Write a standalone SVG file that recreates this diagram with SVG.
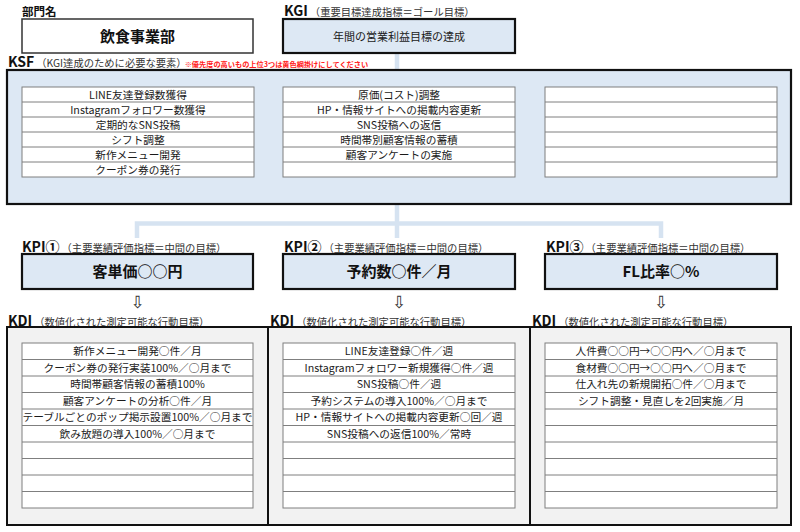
<svg xmlns="http://www.w3.org/2000/svg" width="800" height="532" viewBox="0 0 800 532">
<style>
text{font-family:"Noto Sans CJK JP","Liberation Sans",sans-serif;fill:#1a1a1a}
.lbl{font-size:14px;font-weight:bold;fill:#111}
.sub{font-size:10.3px;font-weight:normal;fill:#333}
.red{font-size:7.2px;fill:#ff2020}
.cell{font-size:10.7px;text-anchor:middle}
.big{font-size:15px;font-weight:bold;text-anchor:middle;fill:#111}
.arr{font-family:"DejaVu Sans",sans-serif;font-size:17px;text-anchor:middle;fill:#333}
.tbl{fill:#fff;stroke:#7f7f7f;stroke-width:1}
.row{stroke:#7f7f7f;stroke-width:1}
.blue{fill:#dde8f4;stroke:#111;stroke-width:2.2}
.gray{fill:#f2f2f2;stroke:#111;stroke-width:2}
.con{stroke:#d6e3f1;stroke-width:4.5;fill:none}
</style>

<g id="connectors">
<line class="con" x1="397" y1="53" x2="397" y2="70"/>
<line class="con" x1="397" y1="204" x2="397" y2="238"/>
<polyline class="con" points="137,238 137,223.5 661,223.5 661,238"/>
</g>

<g id="dept">
<text class="lbl" x="22" y="15.5" style="font-size:11.5px">部門名</text>
<rect x="22" y="19" width="231" height="34" fill="#fff" stroke="#333" stroke-width="1.5"/>
<text class="big" x="137.5" y="42">飲食事業部</text>
</g>

<g id="kgi">
<text class="lbl" x="284" y="15.5">KGI<tspan class="sub" dx="2">（重要目標達成指標＝ゴール目標）</tspan></text>
<rect class="blue" x="283" y="19" width="232" height="34"/>
<text class="cell" x="399" y="41" style="font-size:11px">年間の営業利益目標の達成</text>
</g>

<g id="ksf">
<text class="lbl" x="8" y="67">KSF<tspan class="sub" dx="2">（KGI達成のために必要な要素）</tspan><tspan class="red" dx="-2">※優先度の高いもの上位3つは黄色網掛けにしてください</tspan></text>
<rect class="blue" x="7" y="70" width="784" height="134"/>
<rect class="tbl" x="22" y="87" width="232" height="90"/>
<rect class="tbl" x="283" y="87" width="232" height="90"/>
<rect class="tbl" x="545" y="87" width="232" height="90"/>
<path class="row" d="M22 102H254M22 117H254M22 132H254M22 147H254M22 162H254M283 102H515M283 117H515M283 132H515M283 147H515M283 162H515M545 102H777M545 117H777M545 132H777M545 147H777M545 162H777"/>
<text class="cell" x="138" y="98.5">LINE友達登録数獲得</text>
<text class="cell" x="138" y="113.5">Instagramフォロワー数獲得</text>
<text class="cell" x="138" y="128.5">定期的なSNS投稿</text>
<text class="cell" x="138" y="143.5">シフト調整</text>
<text class="cell" x="138" y="158.5">新作メニュー開発</text>
<text class="cell" x="138" y="173.5">クーポン券の発行</text>
<text class="cell" x="399" y="98.5">原価(コスト)調整</text>
<text class="cell" x="399" y="113.5">HP・情報サイトへの掲載内容更新</text>
<text class="cell" x="399" y="128.5">SNS投稿への返信</text>
<text class="cell" x="399" y="143.5">時間帯別顧客情報の蓄積</text>
<text class="cell" x="399" y="158.5">顧客アンケートの実施</text>
</g>

<g id="kpi1">
<text class="lbl" x="22" y="252">KPI①<tspan class="sub" dx="2">（主要業績評価指標＝中間の目標）</tspan></text>
<rect class="blue" x="22" y="254" width="231" height="35"/>
<text class="big" x="137.5" y="277">客単価○○円</text>
<text class="arr" x="137.5" y="308">⇩</text>
</g>

<g id="kpi2">
<text class="lbl" x="284" y="252">KPI②<tspan class="sub" dx="2">（主要業績評価指標＝中間の目標）</tspan></text>
<rect class="blue" x="283" y="254" width="232" height="35"/>
<text class="big" x="399" y="277">予約数○件／月</text>
<text class="arr" x="399" y="308">⇩</text>
</g>

<g id="kpi3">
<text class="lbl" x="546" y="252">KPI③<tspan class="sub" dx="2">（主要業績評価指標＝中間の目標）</tspan></text>
<rect class="blue" x="545" y="254" width="232" height="35"/>
<text class="big" x="661" y="277">FL比率○%</text>
<text class="arr" x="661" y="308">⇩</text>
</g>

<g id="kdi1">
<text class="lbl" x="8" y="325.5">KDI<tspan class="sub" dx="2">（数値化された測定可能な行動目標）</tspan></text>
<rect class="gray" x="7" y="327" width="261" height="198"/>
<rect class="tbl" x="22" y="343" width="231" height="165"/>
<path class="row" d="M22 359.5H253M22 376H253M22 392.5H253M22 409H253M22 425.5H253M22 442H253M22 458.5H253M22 475H253M22 491.5H253"/>
<text class="cell" x="137.5" y="355.2">新作メニュー開発○件／月</text>
<text class="cell" x="137.5" y="371.7">クーポン券の発行実装100%／○月まで</text>
<text class="cell" x="137.5" y="388.2">時間帯顧客情報の蓄積100%</text>
<text class="cell" x="137.5" y="404.7">顧客アンケートの分析○件／月</text>
<text class="cell" x="137.5" y="421.2">テーブルごとのポップ掲示設置100%／○月まで</text>
<text class="cell" x="137.5" y="437.7">飲み放題の導入100%／○月まで</text>
</g>

<g id="kdi2">
<text class="lbl" x="270" y="325.5">KDI<tspan class="sub" dx="2">（数値化された測定可能な行動目標）</tspan></text>
<rect class="gray" x="268" y="327" width="262" height="198"/>
<rect class="tbl" x="283" y="343" width="232" height="165"/>
<path class="row" d="M283 359.5H515M283 376H515M283 392.5H515M283 409H515M283 425.5H515M283 442H515M283 458.5H515M283 475H515M283 491.5H515"/>
<text class="cell" x="399" y="355.2">LINE友達登録○件／週</text>
<text class="cell" x="399" y="371.7">Instagramフォロワー新規獲得○件／週</text>
<text class="cell" x="399" y="388.2">SNS投稿○件／週</text>
<text class="cell" x="399" y="404.7">予約システムの導入100%／○月まで</text>
<text class="cell" x="399" y="421.2">HP・情報サイトへの掲載内容更新○回／週</text>
<text class="cell" x="399" y="437.7">SNS投稿への返信100%／常時</text>
</g>

<g id="kdi3">
<text class="lbl" x="532" y="325.5">KDI<tspan class="sub" dx="2">（数値化された測定可能な行動目標）</tspan></text>
<rect class="gray" x="530" y="327" width="261" height="198"/>
<rect class="tbl" x="545" y="343" width="232" height="165"/>
<path class="row" d="M545 359.5H777M545 376H777M545 392.5H777M545 409H777M545 425.5H777M545 442H777M545 458.5H777M545 475H777M545 491.5H777"/>
<text class="cell" x="661" y="355.2">人件費○○円→○○円へ／○月まで</text>
<text class="cell" x="661" y="371.7">食材費○○円→○○円へ／○月まで</text>
<text class="cell" x="661" y="388.2">仕入れ先の新規開拓○件／○月まで</text>
<text class="cell" x="661" y="404.7">シフト調整・見直しを2回実施／月</text>
</g>
</svg>
